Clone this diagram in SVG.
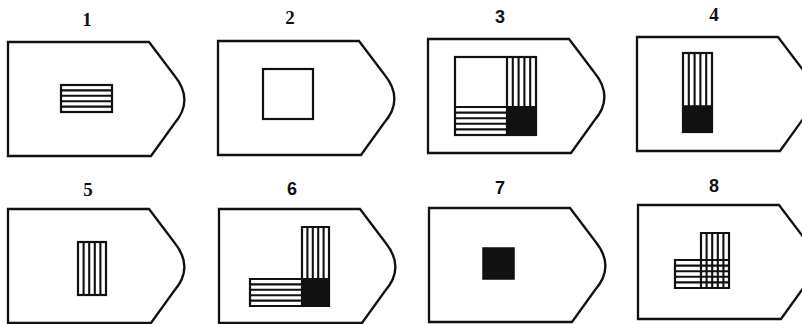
<svg xmlns="http://www.w3.org/2000/svg" width="802" height="324" viewBox="0 0 802 324">
<defs>
<style>
.bg{fill:#fff}
.outline{fill:#fff;stroke:#111;stroke-width:2.3;stroke-linejoin:miter}
.box{fill:none;stroke:#111;stroke-width:2.2}
.hatch{fill:none;stroke:#111;stroke-width:2.1}
.solid{fill:#111;stroke:#111;stroke-width:1.5}
.lbl-serif{font-family:"Liberation Serif","DejaVu Serif",serif;font-weight:bold;font-size:19px;fill:#111;text-anchor:middle}
.lbl-sans{font-family:"Liberation Sans","DejaVu Sans",sans-serif;font-weight:bold;font-size:18px;fill:#111;text-anchor:middle}
</style>
<path id="board" d="M0,0 H141 L166,33 C180,50 180,66 166,82 L143,114 H0 Z"/>
</defs>
<rect class="bg" x="0" y="0" width="802" height="324"/>

<g id="node1">
<text class="lbl-serif" x="87" y="26">1</text>
<use href="#board" class="outline" x="8" y="42"/>
<path class="hatch" d="M61,90.4 H112 M61,95.8 H112 M61,101.2 H112 M61,106.6 H112"/>
<rect class="box" x="61" y="85" width="51" height="27"/>
</g>

<g id="node2">
<text class="lbl-serif" x="290" y="24">2</text>
<use href="#board" class="outline" x="218" y="41"/>
<rect class="box" x="263" y="69" width="50" height="50"/>
</g>

<g id="node3">
<text class="lbl-sans" x="500" y="23">3</text>
<use href="#board" class="outline" x="428" y="39"/>
<path class="hatch" d="M512.8,57 V107 M518.6,57 V107 M524.4,57 V107 M530.2,57 V107"/>
<path class="hatch" d="M455,112.6 H507 M455,118.2 H507 M455,123.8 H507 M455,129.4 H507"/>
<rect class="solid" x="507" y="107" width="29" height="28"/>
<path class="box" d="M507,57 V135 M455,107 H536"/>
<rect class="box" x="455" y="57" width="81" height="78"/>
</g>

<g id="node4">
<text class="lbl-serif" x="714" y="21">4</text>
<use href="#board" class="outline" x="637" y="37"/>
<path class="hatch" d="M688.8,53 V106 M694.6,53 V106 M700.4,53 V106 M706.2,53 V106"/>
<rect class="solid" x="683" y="106" width="29" height="26"/>
<rect class="box" x="683" y="53" width="29" height="79"/>
</g>

<g id="node5">
<text class="lbl-serif" x="88" y="196">5</text>
<use href="#board" class="outline" x="8" y="209"/>
<path class="hatch" d="M83.6,242 V295 M89.2,242 V295 M94.8,242 V295 M100.4,242 V295"/>
<rect class="box" x="78" y="242" width="28" height="53"/>
</g>

<g id="node6">
<text class="lbl-sans" x="292" y="195">6</text>
<use href="#board" class="outline" x="219" y="209"/>
<path class="hatch" d="M307.4,227 V279 M312.8,227 V279 M318.2,227 V279 M323.6,227 V279"/>
<path class="hatch" d="M250,284.4 H302 M250,289.8 H302 M250,295.2 H302 M250,300.6 H302"/>
<rect class="solid" x="302" y="279" width="27" height="27"/>
<path class="box" d="M302,227 H329 V306 H250 V279 H302 Z M302,279 V306 M302,279 H329"/>
</g>

<g id="node7">
<text class="lbl-sans" x="500" y="194">7</text>
<use href="#board" class="outline" x="429" y="208"/>
<rect class="solid" x="483" y="248" width="31" height="31"/>
</g>

<g id="node8">
<text class="lbl-sans" x="714" y="192">8</text>
<use href="#board" class="outline" x="638" y="205"/>
<path class="hatch" d="M706.6,233 V288 M712.2,233 V288 M717.8,233 V288 M723.4,233 V288"/>
<path class="hatch" d="M675,265.6 H729 M675,271.2 H729 M675,276.8 H729 M675,282.4 H729"/>
<path class="box" d="M701,233 H729 V288 H675 V260 H701 Z M701,260 V288 M701,260 H729"/>
</g>

<g id="connectors"></g>
</svg>
